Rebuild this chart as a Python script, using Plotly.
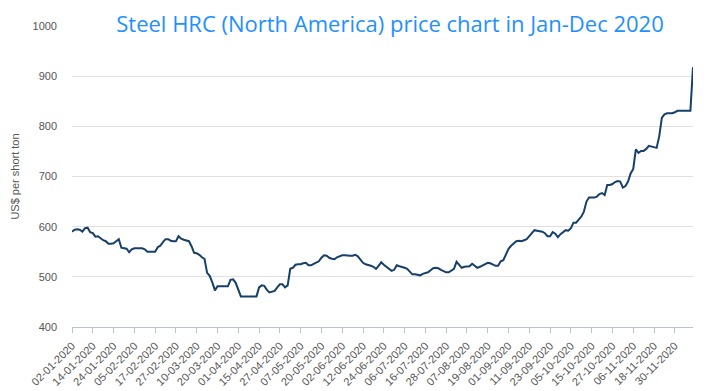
import pandas as pd
import plotly.graph_objects as go

# ---- data ----
tick_dates = [
    "02-01-2020", "14-01-2020", "24-01-2020", "05-02-2020", "17-02-2020", "27-02-2020",
    "10-03-2020", "20-03-2020", "01-04-2020", "15-04-2020", "27-04-2020", "07-05-2020",
    "20-05-2020", "02-06-2020", "12-06-2020", "24-06-2020", "06-07-2020", "16-07-2020",
    "28-07-2020", "07-08-2020", "19-08-2020", "01-09-2020", "11-09-2020", "23-09-2020",
    "05-10-2020", "15-10-2020", "27-10-2020", "06-11-2020", "18-11-2020", "30-11-2020",
]
trading_days_per_tick = 8
trailing_days = 8  # days from 30-11 up to the last point

price = [
    590, 594, 595, 594, 590, 597, 598, 589, 587, 580,
    581, 577, 573, 571, 566, 566, 567, 571, 575, 558,
    557, 556, 549, 555, 557, 557, 557, 557, 555, 550,
    550, 550, 550, 559, 562, 569, 575, 575, 572, 571,
    571, 581, 576, 574, 573, 571, 561, 548, 547, 544,
    539, 536, 508, 502, 489, 473, 481, 481, 481, 481,
    481, 494, 495, 488, 476, 461, 461, 461, 461, 461,
    461, 461, 479, 483, 482, 474, 469, 470, 472, 479,
    485, 485, 479, 483, 516, 518, 524, 525, 525, 527,
    528, 523, 523, 526, 529, 531, 538, 543, 542, 538,
    536, 535, 539, 541, 543, 543, 542, 542, 542, 544,
    541, 535, 528, 525, 524, 522, 520, 516, 522, 529,
    524, 520, 517, 512, 514, 523, 521, 520, 518, 516,
    510, 505, 505, 504, 503, 506, 508, 509, 513, 517,
    518, 517, 514, 511, 509, 509, 512, 516, 530, 523,
    518, 520, 521, 521, 526, 522, 518, 520, 523, 526,
    528, 527, 525, 522, 522, 531, 533, 544, 556, 562,
    567, 571, 572, 571, 573, 575, 581, 588, 593, 592,
    591, 590, 587, 581, 581, 589, 586, 579, 585, 590,
    593, 592, 597, 608, 608, 614, 620, 630, 650, 658,
    658, 658, 660, 665, 667, 663, 683, 683, 685, 689,
    691, 690, 678, 681, 690, 706, 715, 754, 747, 751,
    751, 755, 761, 760, 758, 757, 780, 817, 824, 826,
    826, 826, 828, 831, 831, 831, 831, 831, 831, 918,
]

# category labels: each tick date followed by the next trading days
categories = []
for k, d in enumerate(tick_dates):
    n = trailing_days if k == len(tick_dates) - 1 else trading_days_per_tick
    days = pd.bdate_range(pd.to_datetime(d, format="%d-%m-%Y"), periods=n)
    categories += [x.strftime("%d-%m-%Y") for x in days]
categories = categories[:len(price)]

fig = go.Figure()
fig.add_trace(go.Scatter(
    x=categories, y=price, mode="lines",
    line=dict(color="#16406a", width=2),
    hoverinfo="x+y",
))

fig.update_layout(
    width=712, height=391,
    margin=dict(l=72, r=19, t=26, b=64, autoexpand=False),
    paper_bgcolor="white", plot_bgcolor="white",
    showlegend=False,
    title=dict(
        text="Steel HRC (North America) price chart in Jan-Dec 2020",
        font=dict(family="Open Sans", size=22, color="#1e90ff"),
        x=390 / 712, xanchor="center", xref="container",
        y=1 - 24 / 391, yanchor="middle", yref="container",
    ),
    xaxis=dict(
        type="category",
        range=[0, len(price) - 1],
        automargin=False,
        tickmode="array", tickvals=tick_dates, ticktext=tick_dates,
        tickangle=-45,
        tickfont=dict(family="Arial", size=11, color="#555555"),
        ticklabelstandoff=2,
        ticks="outside", ticklen=5, tickcolor="#b8c2d2",
        showline=True, linecolor="#b8c2d2", linewidth=1,
        showgrid=False, zeroline=False,
    ),
    yaxis=dict(
        range=[400, 1000], dtick=100,
        automargin=False,
        tickfont=dict(family="Arial", size=11, color="#555555"),
        showgrid=True, gridcolor="#e0e0e0", gridwidth=1,
        showline=False, zeroline=False, ticks="",
        ticklabelstandoff=14,
        title=dict(text="US$ per short ton",
                   font=dict(family="Arial", size=11, color="#555555"),
                   standoff=10),
    ),
)

fig.write_html(
    "out.html",
    config={"displayModeBar": False},
    post_script="document.body.style.margin='0';document.body.style.overflow='hidden';",
)
